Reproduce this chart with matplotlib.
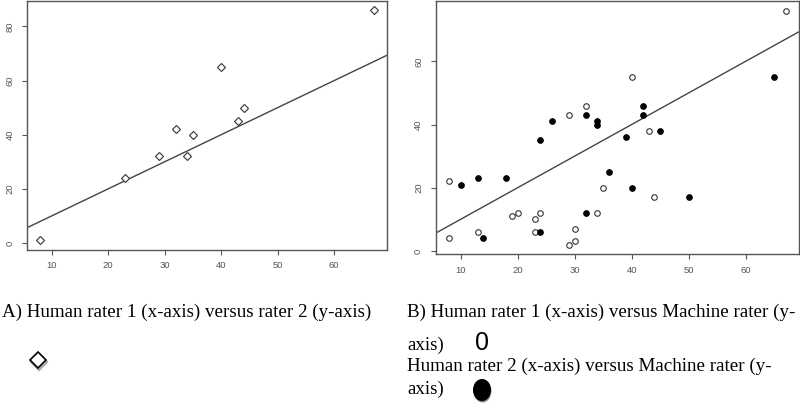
import matplotlib
matplotlib.use("Agg")
import matplotlib.pyplot as plt
from matplotlib.lines import Line2D
from matplotlib.patches import Ellipse

# ---- data ----
a_x = [8, 23, 29, 32, 34, 35, 40, 43, 44, 67]
a_y = [1, 24, 32, 42, 32, 40, 65, 45, 50, 86]

b_open_x = [8, 8, 13, 19, 20, 23, 23, 24, 29, 29, 30, 30, 32, 34, 35, 40, 43, 44, 67]
b_open_y = [22, 4, 6, 11, 12, 10, 6, 12, 43, 2, 7, 3, 46, 12, 20, 55, 38, 17, 76]

b_fill_x = [10, 13, 14, 18, 24, 24, 26, 32, 32, 34, 34, 36, 39, 40, 42, 42, 45, 50, 65]
b_fill_y = [21, 23, 4, 23, 35, 6, 41, 43, 12, 41, 40, 25, 36, 20, 46, 43, 38, 17, 55]

x_ticks = [10, 20, 30, 40, 50, 60]
a_y_ticks = [0, 20, 40, 60, 80]
b_y_ticks = [0, 20, 40, 60]

caption_a = "A) Human rater 1 (x-axis) versus rater 2 (y-axis)"
caption_b1 = "B) Human rater 1 (x-axis) versus Machine rater (y-"
caption_b2 = "axis)"
caption_b3 = "Human rater 2 (x-axis) versus Machine rater (y-"
caption_b4 = "axis)"

W, H = 800, 403
fig = plt.figure(figsize=(W / 100, H / 100), dpi=100)

AX_COL = "#555555"
PT_COL = "#333333"


def px(x, y):
    return x / W, 1 - y / H


def style(ax, yt):
    for s in ax.spines.values():
        s.set_color(AX_COL)
        s.set_linewidth(1.0)
    ax.set_xticks(x_ticks)
    ax.set_yticks(yt)
    ax.tick_params(axis="both", direction="out", length=3.6, width=0.8,
                   color=AX_COL, labelsize=6.8, labelcolor="#555555")
    ax.tick_params(axis="x", pad=5)
    ax.tick_params(axis="y", pad=5.5, labelrotation=90)
    for lab in ax.get_yticklabels():
        lab.set_va("center")
    for lab in ax.get_xticklabels() + ax.get_yticklabels():
        lab.set_family("Liberation Sans")


def identity(ax):
    lo, hi = ax.get_xlim()
    ax.plot([lo, hi], [lo, hi], color="#444444", lw=1.0, zorder=1)


# ---- panel A ----
axA = fig.add_axes([27 / W, 1 - 249.5 / H, 360 / W, 248.5 / H])
axA.set_xlim(5.64, 69.36)
axA.set_ylim(-2.4, 89.4)
axA.plot(a_x, a_y, linestyle="none", marker="D", markersize=3.6,
         markerfacecolor="white", markeredgecolor=PT_COL, markeredgewidth=0.8, zorder=3)
identity(axA)
style(axA, a_y_ticks)

# ---- panel B ----
axB = fig.add_axes([435.7 / W, 1 - 254 / H, 363.3 / W, 252.6 / H])
axB.set_xlim(5.64, 69.36)
axB.set_ylim(-0.96, 78.96)
axB.plot(b_open_x, b_open_y, linestyle="none", marker="o", markersize=4.0,
         markerfacecolor="white", markeredgecolor=PT_COL, markeredgewidth=0.8, zorder=3)
axB.plot(b_fill_x, b_fill_y, linestyle="none", marker="o", markersize=4.0,
         markerfacecolor="black", markeredgecolor="black", markeredgewidth=0.8, zorder=3)
identity(axB)
style(axB, b_y_ticks)

# ---- captions ----
serif = "Liberation Serif"
fs = 13.7
fig.text(*px(2, 317), caption_a, family=serif, fontsize=fs, va="baseline", ha="left")
fig.text(*px(407, 317), caption_b1, family=serif, fontsize=fs, va="baseline", ha="left")
fig.text(*px(407, 350), caption_b2, family=serif, fontsize=fs, va="baseline", ha="left")
fig.text(*px(407, 371), caption_b3, family=serif, fontsize=fs, va="baseline", ha="left")
fig.text(*px(407, 394), caption_b4, family=serif, fontsize=fs, va="baseline", ha="left")
fig.text(*px(482, 350), "0", family="Liberation Sans", fontsize=18, va="baseline", ha="center")

# legend symbols
fig.add_artist(Line2D([38.8 / W], [1 - 361.8 / H], marker="D", markersize=8,
                      markerfacecolor="none", markeredgecolor="#aaaaaa",
                      markeredgewidth=1.6, linestyle="none", transform=fig.transFigure))
fig.add_artist(Line2D([38 / W], [1 - 360 / H], marker="D", markersize=8,
                      markerfacecolor="white", markeredgecolor="black",
                      markeredgewidth=1.2, linestyle="none", transform=fig.transFigure))
fig.add_artist(Ellipse(px(482.5, 391), 18 / W, 23 / H, facecolor="#888888",
                       edgecolor="none", transform=fig.transFigure))
fig.add_artist(Ellipse(px(482, 390), 18 / W, 22 / H, facecolor="black",
                       edgecolor="none", transform=fig.transFigure))

fig.savefig("out.png", dpi=100)
